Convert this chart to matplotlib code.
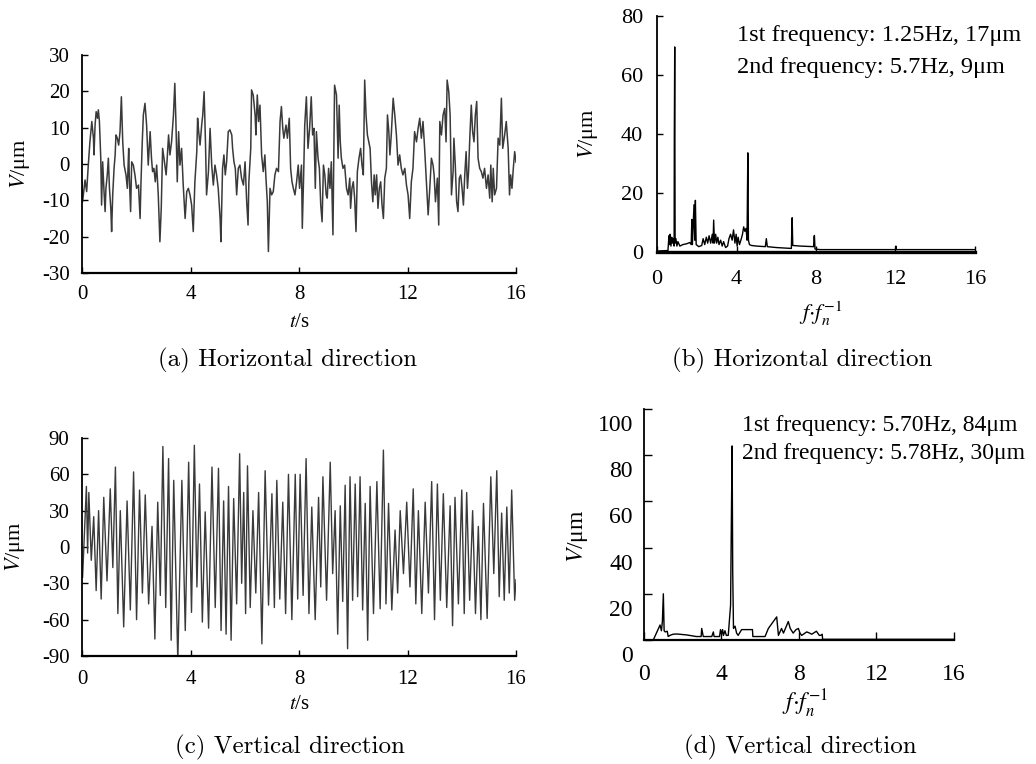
import numpy as np
import matplotlib
matplotlib.use("Agg")
import matplotlib.pyplot as plt
from matplotlib.transforms import ScaledTranslation

plt.rcParams['font.family'] = ['Liberation Serif', 'DejaVu Serif']
plt.rcParams['mathtext.fontset'] = 'stix'
plt.rcParams['axes.unicode_minus'] = False

# (a) horizontal displacement time history
t_a = [0.00, 0.02, 0.11, 0.17, 0.23, 0.29, 0.36, 0.42, 0.44, 0.48, 0.52, 0.57, 0.60, 0.64, 0.69, 0.72, 0.76, 0.81, 0.85, 0.88,
       0.93, 0.97, 1.01, 1.06, 1.09, 1.13, 1.18, 1.22, 1.25, 1.30, 1.35, 1.40, 1.45, 1.50, 1.55, 1.62, 1.67, 1.72, 1.74, 1.79,
       1.83, 1.89, 1.95, 2.01, 2.08, 2.14, 2.17, 2.22, 2.26, 2.32, 2.38, 2.44, 2.51, 2.56, 2.60, 2.65, 2.70, 2.75, 2.81, 2.87,
       2.92, 2.97, 3.02, 3.10, 3.14, 3.19, 3.24, 3.30, 3.37, 3.42, 3.46, 3.51, 3.56, 3.61, 3.67, 3.73, 3.80, 3.86, 3.92, 3.98,
       4.04, 4.10, 4.16, 4.23, 4.26, 4.30, 4.35, 4.41, 4.45, 4.50, 4.55, 4.59, 4.66, 4.72, 4.78, 4.84, 4.90, 4.96, 5.02, 5.09,
       5.12, 5.18, 5.23, 5.28, 5.33, 5.39, 5.45, 5.52, 5.55, 5.60, 5.65, 5.70, 5.76, 5.82, 5.88, 5.95, 6.01, 6.07, 6.12, 6.15,
       6.22, 6.25, 6.31, 6.38, 6.41, 6.46, 6.51, 6.56, 6.62, 6.68, 6.74, 6.78, 6.83, 6.87, 6.93, 6.99, 7.05, 7.11, 7.17, 7.24,
       7.30, 7.35, 7.40, 7.44, 7.52, 7.57, 7.64, 7.69, 7.74, 7.79, 7.85, 7.91, 7.97,
       8.02, 8.09, 8.12, 8.17, 8.21, 8.27, 8.33, 8.39, 8.45, 8.50, 8.55, 8.60, 8.64, 8.70, 8.75, 8.80, 8.85, 8.90, 8.95, 9.00,
       9.04, 9.09, 9.14, 9.19, 9.25, 9.31, 9.38, 9.44, 9.48, 9.52, 9.56, 9.62, 9.68, 9.75, 9.81, 9.87, 9.90, 9.95, 10.00, 10.05,
       10.10, 10.15, 10.21, 10.27, 10.32, 10.37, 10.42, 10.47, 10.52, 10.57, 10.62, 10.67, 10.72, 10.77, 10.81, 10.86, 10.91,
       10.96, 11.01, 11.06, 11.11, 11.16, 11.22, 11.26, 11.31, 11.35, 11.40, 11.47, 11.53, 11.59, 11.65, 11.71, 11.77, 11.83,
       11.90, 11.96, 12.02, 12.08, 12.14, 12.20, 12.26, 12.33, 12.39, 12.45, 12.51, 12.57, 12.63, 12.69, 12.76, 12.82, 12.88,
       12.94, 12.98, 13.03, 13.10, 13.15, 13.19, 13.25, 13.31, 13.37, 13.42, 13.46, 13.52, 13.57, 13.62, 13.68, 13.71, 13.76,
       13.81, 13.86, 13.91, 13.96, 14.01, 14.06, 14.11, 14.16, 14.21, 14.25, 14.30, 14.35, 14.40, 14.45, 14.50, 14.55, 14.60,
       14.66, 14.72, 14.78, 14.84, 14.91, 14.97, 15.03, 15.07, 15.12, 15.16, 15.21, 15.28, 15.34, 15.40, 15.46, 15.51, 15.58,
       15.64, 15.71, 15.76, 15.80, 15.85, 15.90, 15.95, 16.00]
v_a = [-4.9, -10.4, -4.4, -7.6, -0.3, 6.1, 11.7, 7.1, 2.5, 10.7, 14.4, 12.6, 14.9, 11.7, 1.6, -11.3, 0.6, -7.6, -13.1, -6.7,
       -3.0, 1.6, -6.7, -12.2, -18.6, -8.5, -1.2, 2.5, 8.0, 7.1, 5.2, 8.9, 18.5, 6.1, -0.3, -3.0, -6.7, 4.3, -3.0, -13.1,
       0.6, -0.3, -3.0, -6.7, -5.8, -15.0, -5.8, 6.1, 13.5, 16.7, 10.7, -0.3, 8.9, 1.6, -2.1, -1.2, -4.9, -0.3, -8.5, -21.4,
       -12.2, 4.3, 1.6, -3.0, 1.6, 8.0, 2.5, 6.1, 13.5, 22.2, 11.7, -4.9, 8.9, -0.3, 4.3, -5.8, -15.0, -7.6, -6.7, -8.5,
       -11.3, -18.6, -4.9, 3.4, 12.6, 8.9, 5.2, 10.7, 13.5, 19.9, 6.1, -8.5, -2.1, 9.8, -0.3, -5.8, -0.3, -3.0, -6.7, -15.0,
       -21.4, -1.2, 2.5, -3.0, 0.6, 8.9, 9.4, 8.0, 4.3, 0.6, -1.2, -8.5, -1.2, -0.3, -3.9, -5.8, 0.6, -10.4, -16.8, -4.9,
       4.3, 20.4, 19.0, 13.5, 8.0, 19.0, 11.7, 16.2, 2.5, -2.1, 2.5, -3.9, -10.4, -24.1, -6.7, -8.5, -7.6, -3.0, -1.2, -2.1,
       11.7, 15.8, 9.8, 7.1, 10.7, 7.1, 12.6, -1.2, -4.9, -6.7, -8.5, -4.9, -0.3,
       -6.7, -0.3, -17.7, -3.0, 10.7, 18.5, 4.3, 9.8, 18.5, 8.0, 9.8, -6.7, 8.9, 1.6, -1.2, -11.3, -15.9, -0.3, -3.0, -8.5,
       -9.4, -1.2, -6.7, 0.6, -19.5, 21.7, 19.0, 1.6, 16.2, 6.1, 1.6, -1.2, -0.3, -6.7, -8.5, -3.9, -12.2, -6.7, -4.9, -9.4,
       -18.6, -2.1, 1.6, 4.3, -0.3, -3.0, 23.1, 13.5, 8.0, 6.1, 4.3, -4.9, -10.4, -3.0, -8.5, -3.0, -12.2,
       -6.7, -4.9, -11.3, -15.0, -3.9, -1.2, 13.5, 8.9, 2.5, 8.0, 18.1, 13.5, 8.0, -0.3, 2.5, -1.2, -3.0,
       -1.2, -5.8, -8.5, -15.0, -4.9, -1.2, 8.9, 6.1, 9.8, 12.6, 7.1, 11.7, 4.3, -3.9, -14.0, -6.7, 1.6,
       -0.3, -3.0, -10.4, -3.9, -16.8, 11.7, 8.0, 13.5, 15.3, 6.1, 23.1, 19.9, 13.5, -8.5, -2.1, 7.1, -0.3,
       -10.4, -13.1, -3.9, -3.0, -6.7, -11.3, -3.0, 3.4, -6.7, -2.1, 8.0, 16.2, 8.9, 6.1, 13.5, 17.2, 1.6,
       -1.2, -2.1, -3.9, -1.2, -6.7, -3.0, -9.4, -0.3, -10.4, -1.2, -8.5, -6.7, 7.1, 5.2, 18.1, 4.3, 8.0,
       11.7, 4.3, -8.5, -3.0, -6.7, -1.2, 3.4, 0.5]

# (b) horizontal spectrum
f_b = [0.0, 0.55, 0.6, 0.63, 0.66, 0.7, 0.74, 0.78, 0.82, 0.86, 0.87, 0.89, 0.91, 0.95, 1.0, 1.05, 1.15, 1.3, 1.5, 1.65,
       1.72, 1.75, 1.78, 1.86, 1.9, 1.93, 1.97, 2.1, 2.25, 2.32, 2.4, 2.48, 2.55, 2.62, 2.7, 2.78, 2.82, 2.85, 2.89, 2.95,
       3.0, 3.06, 3.12, 3.2, 3.28, 3.35, 3.45, 3.55, 3.62, 3.7, 3.78, 3.85, 3.92, 3.98, 4.03, 4.08, 4.15, 4.22, 4.3, 4.36,
       4.42, 4.48, 4.53, 4.55, 4.57, 4.6, 4.65, 4.75, 5.0, 5.45, 5.5, 5.55, 6.0, 6.5, 6.76, 6.78, 6.8, 6.83, 7.2, 7.88,
       7.9, 7.92, 7.95, 8.2, 12.0, 12.02, 12.05, 16.0]
a_b = [0.3, 0.5, 5.5, 2.5, 6, 2, 5, 3, 4.5, 2, 39, 69.5, 3, 4.5, 2, 3.5, 2, 2.5, 2.8, 3.2,
       2.5, 11, 2.5, 16, 4, 17.5, 2.5, 1.8, 2.2, 4.5, 2.5, 5, 3, 5.5, 3, 6, 3, 10.8, 3, 6,
       3, 5, 2.5, 4, 2, 3.5, 1.5, 2, 4.5, 6, 4, 7.5, 3, 6, 2, 5, 2.5, 4, 6, 8.5,
       7, 8, 4, 20, 33.6, 4, 2.5, 2.2, 2, 1.8, 4.5, 1.8, 1.5, 1.3, 1.2, 7, 11.6, 2.2, 2, 1.8,
       5, 5.6, 1, 0.8, 0.8, 2, 0.8, 0.8]

# (c) vertical displacement time history: local maxima and minima
tmax_c = [0.16, 0.25, 0.43, 0.61, 0.80, 1.04, 1.23, 1.41, 1.66, 1.90, 2.12, 2.33, 2.58, 2.79, 2.98, 3.19, 3.38, 3.68, 3.93, 4.14,
          4.33, 4.54, 4.79, 5.03, 5.22, 5.40, 5.59, 5.81, 5.96, 6.10, 6.30, 6.51, 6.75, 7.00, 7.18, 7.40, 7.61, 7.86, 8.04, 8.26,
          8.47, 8.72, 8.88, 9.15, 9.33, 9.52, 9.70, 9.88, 10.07, 10.25, 10.44, 10.62, 10.87, 11.11, 11.30, 11.54, 11.73, 11.97,
          12.21, 12.40, 12.65, 12.89, 13.10, 13.32, 13.57, 13.75, 14.00, 14.18, 14.40, 14.61, 14.80, 15.07, 15.29, 15.47, 15.66,
          15.84, 16.00]
vmax_c = [50, 45, 25, 30, 41, 48, 66, 30, 38, 62, 47, 43, 17, 37, 83, 73, 55, 55, 70, 84,
          52, 29, 66, 65, 38, 50, 40, 77, 45, 67, 30, 45, 63, 44, 55, 37, 60, 60, 60, 73,
          33, 41, 58, 70, 30, 34, 51, 58, 52, 58, 36, 50, 54, 80, 36, 14, 30, 37,
          48, 30, 37, 54, 52, 44, 34, 41, 47, 45, 30, 17, 36, 58, 63, 28, 33,
          47, -27]
tmin_c = [0.02, 0.205, 0.34, 0.52, 0.705, 0.92, 1.135, 1.32, 1.535, 1.78, 2.01, 2.225, 2.455, 2.685, 2.885, 3.085, 3.285,
          3.53, 3.805, 4.035, 4.235, 4.435, 4.665, 4.91, 5.125, 5.31, 5.495, 5.70, 5.885, 6.03, 6.20, 6.405, 6.63, 6.875,
          7.09, 7.29, 7.505, 7.735, 7.95, 8.15, 8.365, 8.595, 8.80, 9.015, 9.24, 9.425, 9.61, 9.79, 9.975, 10.16, 10.345,
          10.53, 10.745, 10.99, 11.205, 11.42, 11.635, 11.85, 12.09, 12.305, 12.525, 12.77, 12.995, 13.21, 13.445, 13.66,
          13.875, 14.09, 14.29, 14.505, 14.705, 14.935, 15.18, 15.38, 15.565, 15.75, 15.95]
vmin_c = [-25, -5, -11, -36, -43, -28, -17, -55, -66, -52, -60, -38, -47, -76, -40, -50, -77,
          -94, -69, -54, -33, -62, -67, -50, -69, -72, -77, -47, -30, -55, -50, -38, -80, -48,
          -50, -43, -55, -60, -43, -40, -55, -60, -33, -44, -22, -72, -45, -84, -44, -41, -52,
          -77, -55, -51, -47, -52, -38, -22, -33, -47, -55, -38, -60, -44, -50, -65,
          -47, -55, -44, -55, -60, -59, -22, -41, -44, -38, -44]

# (d) vertical spectrum
f_d = [0.48, 0.83, 0.9, 0.95, 1.0, 1.04, 1.1, 1.2, 1.25, 1.34, 1.5, 1.7, 2.2, 2.7, 2.95, 2.98, 3.06, 3.5, 3.58, 3.62,
       3.9, 3.95, 4.0, 4.06, 4.1, 4.18, 4.25, 4.35, 4.47, 4.52, 4.55, 4.58, 4.62, 4.7, 4.78, 4.86, 5.04, 5.6, 5.62, 6.25,
       6.42, 6.85, 6.94, 7.1, 7.2, 7.45, 7.55, 7.7, 7.85, 7.97, 8.05, 8.14, 8.4, 8.55, 8.66, 8.9, 9.05, 9.12, 9.2, 9.22, 16.0]
a_d = [0, 6.5, 4, 8, 20, 4, 3.5, 3.8, 1.5, 2, 2.5, 2.6, 2.2, 1.5, 1.5, 5, 1.5, 1.5, 3.5, 1.5,
       1.5, 4.5, 2.5, 4.5, 2, 4, 2, 2, 15, 60, 84, 30, 5, 6, 3, 2, 4.5, 4.5, 1.5, 1.5,
       5, 10, 2, 5, 3, 8, 5, 3, 4.5, 5, 3, 2, 3.5, 3, 2.5, 3.8, 2, 2, 2.5, 0.3, 0.3]

fig = plt.figure(figsize=(10.36, 7.64), dpi=100)
ax_a = fig.add_axes([0.0792, 0.6427, 0.4189, 0.2853])
ax_b = fig.add_axes([0.6342, 0.6702, 0.3069, 0.3089])
ax_c = fig.add_axes([0.0792, 0.1414, 0.4189, 0.2853])
ax_d = fig.add_axes([0.6216, 0.1623, 0.2992, 0.3024])


def style(ax, size, xpad, ypad):
    for s in ['top', 'right']:
        ax.spines[s].set_visible(False)
    ax.spines['left'].set_linewidth(1.3)
    ax.spines['bottom'].set_linewidth(1.6)
    ax.tick_params(direction='in', length=4, width=1.0, labelsize=size)
    ax.tick_params(axis='x', pad=xpad)
    ax.tick_params(axis='y', pad=ypad)
    ax.set_xlim(0, 16)
    ax.set_xticks([0, 4, 8, 12, 16])


# (a)
ax_a.plot(t_a, v_a, color='#3a3a3a', lw=1.1)
style(ax_a, 15, 9, 9)
ax_a.set_ylim(-30, 30)
ax_a.set_yticks(np.arange(-30, 31, 10))
ax_a.set_xlabel(r'$t$/s', fontsize=15)
ax_a.set_ylabel(r'$V$/μm', fontsize=16)
ax_a.xaxis.set_label_coords(0.5, -0.183)
ax_a.yaxis.set_label_coords(-0.115, 0.5)

# (b)
ax_b.plot(f_b, a_b, color='black', lw=1.0)
style(ax_b, 16, 13, 10)
ax_b.spines['bottom'].set_linewidth(2.4)
ax_b.set_ylim(0, 80)
ax_b.set_yticks([0, 20, 40, 60, 80])
ax_b.set_xlabel(r'$f{\cdot}f_n^{\mathrm{-1}}$', fontsize=16)
ax_b.set_ylabel(r'$V$/μm', fontsize=16)
ax_b.xaxis.set_label_coords(0.513, -0.203)
ax_b.yaxis.set_label_coords(-0.179, 0.5)
fig.text(737 / 1036, 1 - 36 / 764, '1st frequency: 1.25Hz, 17μm', fontsize=17.5, va='center')
fig.text(737 / 1036, 1 - 67 / 764, '2nd frequency: 5.7Hz, 9μm', fontsize=17.5, va='center')

# (c)
t_c = np.array(tmax_c + tmin_c)
v_c = np.array(vmax_c + vmin_c)
order = np.argsort(t_c)
ax_c.plot(t_c[order], v_c[order], color='#3a3a3a', lw=1.0)
style(ax_c, 15, 10, 9)
ax_c.set_ylim(-90, 90)
ax_c.set_yticks(np.arange(-90, 91, 30))
ax_c.set_xlabel(r'$t$/s', fontsize=15)
ax_c.set_ylabel(r'$V$/μm', fontsize=16)
ax_c.xaxis.set_label_coords(0.5, -0.179)
ax_c.yaxis.set_label_coords(-0.127, 0.5)

# (d)
ax_d.plot(f_d, a_d, color='black', lw=1.0)
style(ax_d, 17, 17, 8)
ax_d.tick_params(length=6)
ax_d.set_ylim(0, 100)
ax_d.set_yticks([0, 20, 40, 60, 80, 100])
shift = ScaledTranslation(0, -0.14, fig.dpi_scale_trans)
for lab in ax_d.get_yticklabels():
    lab.set_transform(lab.get_transform() + shift)
ax_d.set_xlabel(r'$f{\cdot}f_n^{\mathrm{-1}}$', fontsize=17)
ax_d.set_ylabel(r'$V$/μm', fontsize=17)
ax_d.xaxis.set_label_coords(0.519, -0.208)
ax_d.yaxis.set_label_coords(-0.174, 0.45)
fig.text(742 / 1036, 1 - 426 / 764, '1st frequency: 5.70Hz, 84μm', fontsize=17, va='center')
fig.text(742 / 1036, 1 - 454 / 764, '2nd frequency: 5.78Hz, 30μm', fontsize=17, va='center')

# captions
cap = dict(family='cmr10', fontsize=18, ha='center', va='center')
fig.text(287 / 1036, 1 - 360 / 764, '(a) Horizontal direction', **cap)
fig.text(802 / 1036, 1 - 360 / 764, '(b) Horizontal direction', **cap)
fig.text(290 / 1036, 1 - 747 / 764, '(c) Vertical direction', **cap)
fig.text(800 / 1036, 1 - 747 / 764, '(d) Vertical direction', **cap)

fig.savefig('out.png', dpi=100)
